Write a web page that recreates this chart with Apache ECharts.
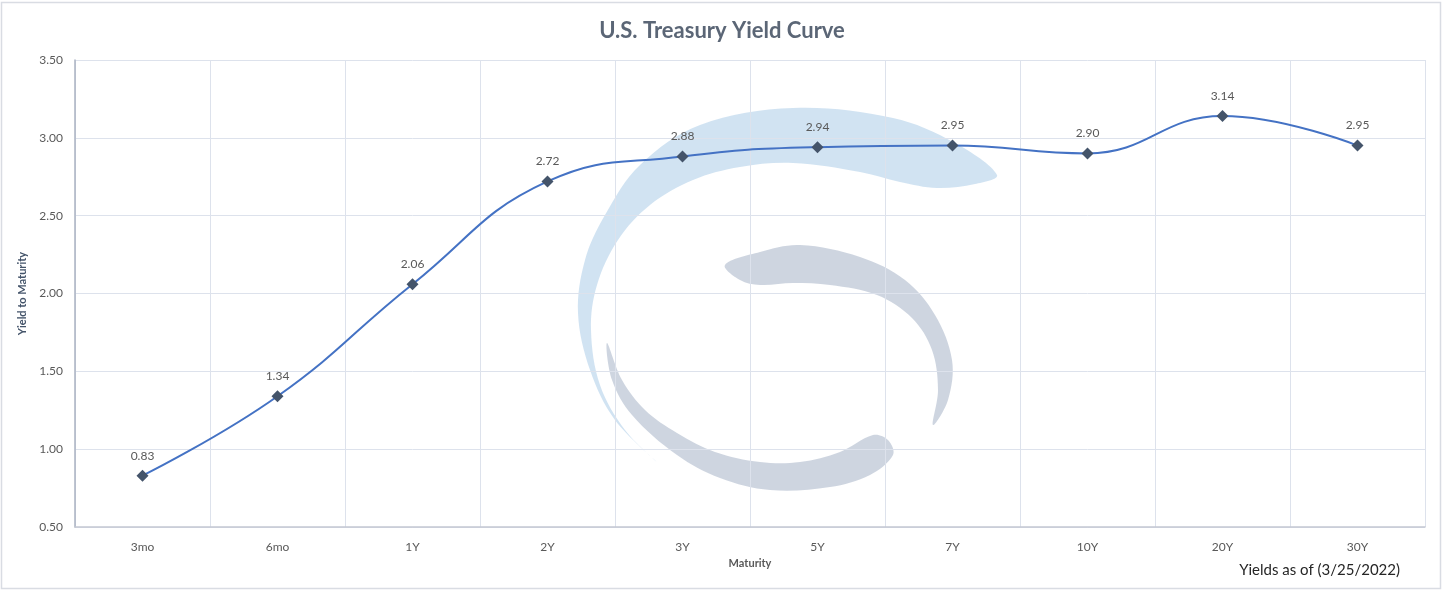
<!DOCTYPE html>
<html>
<head>
<meta charset="utf-8">
<script src="https://cdn.jsdelivr.net/npm/echarts@6/dist/echarts.min.js"></script>
<style>
html,body{margin:0;padding:0;background:#fff;}
#chart{width:1444px;height:592px;}
</style>
</head>
<body>
<div id="chart"></div>
<script>
const categories = ['3mo','6mo','1Y','2Y','3Y','5Y','7Y','10Y','20Y','30Y'];
const yields = [0.83, 1.34, 2.06, 2.72, 2.88, 2.94, 2.95, 2.90, 3.14, 2.95];
const yMin = 0.5, yMax = 3.5, yStep = 0.5;

const chart = echarts.init(document.getElementById('chart'));
const FONT = 'Lato, "Open Sans", sans-serif';
chart.setOption({
  animation: false,
  backgroundColor: '#ffffff',
  title: {
    text: 'U.S. Treasury Yield Curve',
    left: 'center', top: 15,
    textStyle: {fontFamily: FONT, fontSize: 22, fontWeight: 'bold', color: '#5b6676'}
  },
  graphic: [
    {type: 'rect', z: -5, silent: true, shape: {x: 1.5, y: 2.5, width: 1439, height: 586},
     style: {fill: 'none', stroke: '#d9dce3', lineWidth: 1.5}},
    {type: 'polygon', z: -5, silent: true,
     shape: {smooth: 0.35, points: [[657,462],[615,420],[590,370],[578,313],[585,260],[605,215],[640,165],[700,125],[793,108],[893,118],[955,143],[997,175],
       [975,184],[937,188],[900,182],[860,172],[793,163],[740,167],[693,180],[650,205],[618,240],[597,285],[591,330],[600,385],[625,430]]},
     style: {fill: '#c9def0', opacity: 0.85}},
    {type: 'polygon', z: -5, silent: true,
     shape: {smooth: 0.35, points: [[725,265],[760,252],[800,245],[860,257],[905,280],[935,315],[952,360],[948,400],[933,425],
       [938,390],[932,350],[912,318],[877,295],[830,285],[793,283],[760,285],[740,280]]},
     style: {fill: '#c6cedb', opacity: 0.85}},
    {type: 'polygon', z: -5, silent: true,
     shape: {smooth: 0.35, points: [[607,343],[612,380],[632,415],[677,455],[720,478],[770,490],[830,487],[870,475],[893,455],[888,440],[873,435],
       [840,452],[800,462],[760,462],[715,452],[677,433],[645,410],[622,380]]},
     style: {fill: '#c6cedb', opacity: 0.85}},
    {type: 'text', right: 44, top: 563, silent: true,
     style: {text: 'Yields as of (3/25/2022)', font: '15px ' + FONT, fill: '#262626'}}
  ],
  grid: {left: 75, right: 19, top: 60, bottom: 65, containLabel: false},
  xAxis: {
    type: 'category',
    data: categories,
    boundaryGap: true,
    name: 'Maturity',
    nameLocation: 'middle',
    nameGap: 31,
    nameTextStyle: {fontFamily: FONT, fontSize: 11, fontWeight: 'bold', color: '#595959'},
    axisLine: {lineStyle: {color: '#c3c8d2', width: 1.5}},
    axisTick: {show: false},
    axisLabel: {fontFamily: FONT, fontSize: 12, color: '#595959', margin: 14},
    splitLine: {show: true, interval: 0, lineStyle: {color: '#dde2ec', width: 1}}
  },
  yAxis: {
    type: 'value',
    min: yMin, max: yMax, interval: yStep,
    name: 'Yield to Maturity',
    nameLocation: 'middle',
    nameGap: 40,
    nameTextStyle: {fontFamily: FONT, fontSize: 11, fontWeight: 'bold', color: '#44546a'},
    axisLine: {show: true, lineStyle: {color: '#aab2c2', width: 1.5}},
    axisTick: {show: false},
    axisLabel: {fontFamily: FONT, fontSize: 12, color: '#595959', margin: 12,
      formatter: v => v.toFixed(2)},
    splitLine: {show: true, lineStyle: {color: '#dde2ec', width: 1}}
  },
  series: [{
    type: 'line',
    data: yields,
    smooth: 0.45,
    symbol: 'diamond',
    symbolSize: 12,
    lineStyle: {color: '#4472c4', width: 2},
    itemStyle: {color: '#44546a'},
    label: {show: true, position: 'top', distance: 8, fontFamily: FONT, fontSize: 12, color: '#595959',
      formatter: p => p.value.toFixed(2)},
    z: 5
  }]
});
</script>
</body>
</html>
